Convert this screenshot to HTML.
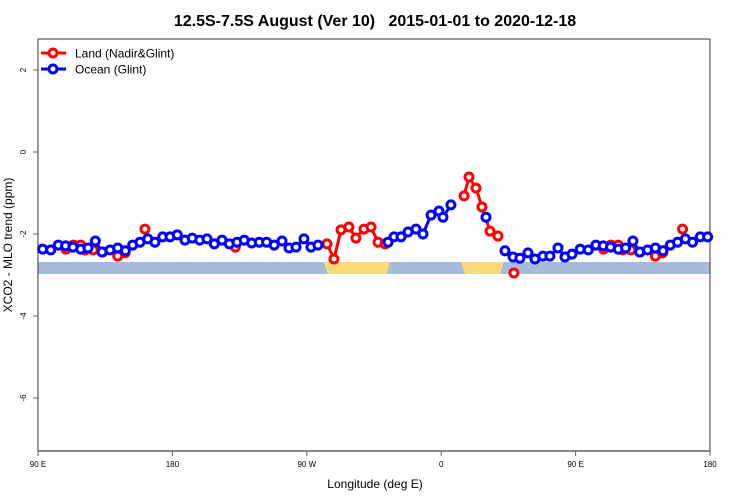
<!DOCTYPE html>
<html><head><meta charset="utf-8"><style>
body{margin:0;background:#fff;}
svg{display:block;font-family:"Liberation Sans",Arial,sans-serif;}
</style></head><body>
<svg id="chart" width="750" height="500">
<text x="375" y="26" text-anchor="middle" font-size="16" font-weight="bold" style="white-space:pre">12.5S-7.5S August (Ver 10)   2015-01-01 to 2020-12-18</text>
<g id="plot"></g>
<text x="375" y="488" text-anchor="middle" font-size="12">Longitude (deg E)</text>
<text transform="translate(12,245) rotate(-90)" text-anchor="middle" font-size="12">XCO2 - MLO trend (ppm)</text>
<g>
<line x1="41" y1="53" x2="66" y2="53" stroke="#f00" stroke-width="3"/>
<circle cx="53" cy="53" r="4" fill="#fff" stroke="#f00" stroke-width="3"/>
<text x="75" y="57.5" font-size="12">Land (Nadir&amp;Glint)</text>
<line x1="41" y1="69" x2="66" y2="69" stroke="#00f" stroke-width="3"/>
<circle cx="53" cy="69" r="4" fill="#fff" stroke="#00f" stroke-width="3"/>
<text x="75" y="73.5" font-size="12">Ocean (Glint)</text>
</g>
</svg>
<script>
const yTicks=[2,0,-2,-4,-6];
const xTickLons=[90,180,270,360,450,540];
const xTickLabels=["90 E","180","90 W","0","90 E","180"];
const oceanLon=[93.1,98.5,103.6,108.5,113.4,118.6,123.5,128.4,132.9,138.2,143.4,148.5,153.4,158.3,163.5,168.3,173.5,178.4,183.3,188.4,193.3,198.3,203.2,208.1,213.2,218.1,223.3,228.1,233.1,238.2,243.1,248.2,253.4,258.1,262.8,268.1,272.8,277.5,324.4,328.4,333.1,337.8,343.1,347.8,353.2,358.5,361.2,366.5,390.0,402.7,408.1,412.7,418.1,422.8,428.1,432.8,438.2,442.9,447.6];
const oceanVal=[-2.37,-2.39,-2.27,-2.29,-2.32,-2.37,-2.34,-2.17,-2.44,-2.39,-2.34,-2.41,-2.27,-2.20,-2.12,-2.20,-2.07,-2.07,-2.02,-2.15,-2.10,-2.15,-2.12,-2.24,-2.15,-2.24,-2.20,-2.15,-2.22,-2.20,-2.20,-2.27,-2.17,-2.34,-2.32,-2.12,-2.32,-2.27,-2.20,-2.07,-2.07,-1.95,-1.88,-2.00,-1.54,-1.44,-1.59,-1.29,-1.59,-2.41,-2.56,-2.59,-2.46,-2.61,-2.54,-2.54,-2.34,-2.56,-2.49];
const landLon=[108.7,113.6,118.6,121.5,127.0,133.3,143.4,148.3,161.6,222.1,283.5,288.2,292.9,298.2,302.9,308.3,313.0,317.7,322.4,375.3,378.6,383.3,387.3,392.7,398.0,408.7];
const landVal=[-2.37,-2.27,-2.27,-2.39,-2.39,-2.44,-2.54,-2.46,-1.88,-2.32,-2.24,-2.61,-1.90,-1.83,-2.10,-1.88,-1.83,-2.20,-2.24,-1.07,-0.61,-0.88,-1.34,-1.93,-2.05,-2.95];
const landBands=[[282,325],[374,401]];

const L=38,R=710,T=39,B=451;
const xs=lon=>L+(lon-90)*(R-L)/450;
const ys=v=>152-v*41;
const NS="http://www.w3.org/2000/svg";
const g=document.getElementById('plot');
function mk(t,a){const e=document.createElementNS(NS,t);for(const k in a)e.setAttribute(k,a[k]);g.appendChild(e);return e;}

let band=mk('rect',{x:L,y:262,width:R-L,height:12,fill:'#a7bcda'});


landBands.forEach(b=>{[0,360].forEach(off=>{
  const a=Math.max(b[0]+off,90),c=Math.min(b[1]+off,540);if(c<=a)return;
  const x1=xs(a),x2=xs(c);
  let r=mk('polygon',{points:`${x1-1},262 ${x2+1},262 ${x2-2},274 ${x1+3},274`,fill:'#fdd97a'});
  
  
});});

let frame=mk('path',{d:`M${L},${B}V${T}H${R}V${B}`,fill:'none',stroke:'#333',"stroke-width":1});


let xa=mk('line',{x1:L,y1:B,x2:R,y2:B,stroke:'#666',"stroke-width":1.5});



yTicks.forEach(v=>{
  let t=mk('line',{x1:L-5,y1:ys(v),x2:L,y2:ys(v),stroke:'#666'});
  
  
  let tx=mk('text',{transform:`translate(${L-12},${ys(v)}) rotate(-90)`,"text-anchor":"middle","font-size":8});
  tx.textContent=String(v);
  
  
});
xTickLons.forEach((lon,i)=>{
  let t=mk('line',{x1:xs(lon),y1:B,x2:xs(lon),y2:B+5,stroke:'#666'});
  
  
  let tx=mk('text',{x:xs(lon),y:B+16,"text-anchor":"middle","font-size":8});
  tx.textContent=xTickLabels[i];
  
  
});

function expand(lons,vals){
  const p=lons.map((l,i)=>[l,vals[i]]);
  lons.forEach((l,i)=>{if(l<180)p.push([l+360,vals[i]]);});
  p.sort((a,b)=>a[0]-b[0]);return p;
}
function series(lons,vals,col,name){
  const p=expand(lons,vals);
  let d='';
  p.forEach((q,i)=>{d+=(i>0&&q[0]-p[i-1][0]<6.5?'L':'M')+xs(q[0]).toFixed(1)+','+ys(q[1]).toFixed(1);});
  let path=mk('path',{d:d,fill:'none',stroke:col,"stroke-width":3});
  
  
  p.forEach(q=>{
    let c=mk('circle',{cx:xs(q[0]),cy:ys(q[1]),r:4,fill:'#fff',stroke:col,"stroke-width":3});
    
    
  });
}
series(landLon,landVal,'#f00','land');
series(oceanLon,oceanVal,'#00f','ocean');
</script>
</body></html>
